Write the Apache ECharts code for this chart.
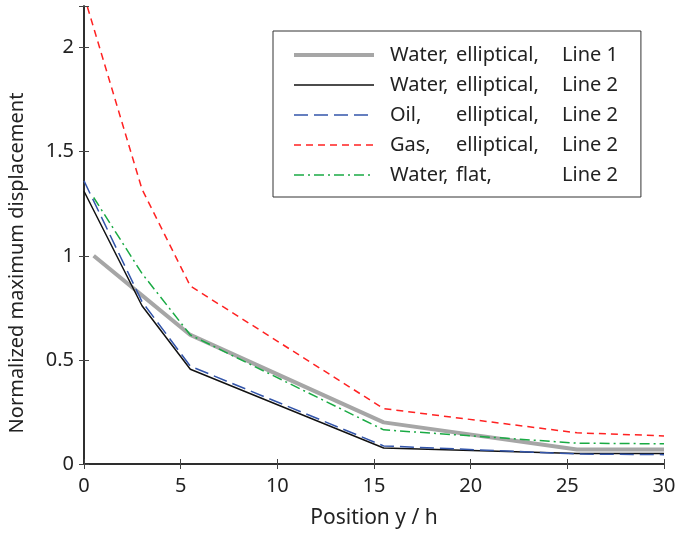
<!DOCTYPE html>
<html><head><meta charset="utf-8">
<script src="https://cdn.jsdelivr.net/npm/echarts@6/dist/echarts.min.js"></script>
<style>html,body{margin:0;padding:0;background:#fff}#c{width:677px;height:534px}</style>
</head><body><div id="c"></div>
<script>
var xLine1 = [0.5, 3, 5.5, 15.5, 25.5, 30];
var xLine2 = [0, 3, 5.5, 15.5, 25.5, 30];
var waterEllLine1 = [1.0, 0.81, 0.62, 0.20, 0.07, 0.07];
var waterEllLine2 = [1.31, 0.76, 0.455, 0.077, 0.05, 0.05];
var oilEllLine2 = [1.36, 0.78, 0.47, 0.087, 0.048, 0.045];
var gasEllLine2 = [2.25, 1.32, 0.855, 0.266, 0.15, 0.135];
var waterFlatLine2 = [1.28, 0.915, 0.62, 0.164, 0.10, 0.097];
var seriesNames = ['Water, elliptical, Line 1','Water, elliptical, Line 2','Oil, elliptical, Line 2','Gas, elliptical, Line 2','Water, flat, Line 2'];
var legendCols = [['Water,','elliptical,','Line 1'],['Water,','elliptical,','Line 2'],['Oil,','elliptical,','Line 2'],['Gas,','elliptical,','Line 2'],['Water,','flat,','Line 2']];
var xTicks = [0,5,10,15,20,25,30];
var yTicks = [0,0.5,1,1.5,2];

function pairs(xs, ys){ return xs.map(function(x,i){return [x, ys[i]];}); }

var FONT = 'Noto Sans';
var FS = 20;
var chart = echarts.init(document.getElementById('c'));
var axisLine = {show:true, lineStyle:{color:'#222', width:1.5}};
var tick = {show:true, inside:true, length:5, lineStyle:{color:'#444', width:1}};
var styles = [
  {color:'#a6a6a6', width:4, type:'solid'},
  {color:'#111111', width:1.5, type:'solid'},
  {color:'#3355aa', width:1.5, type:[14,6]},
  {color:'#ff2222', width:1.5, type:[7,5]},
  {color:'#1aaa44', width:1.5, type:[10,4,2,4]}
];
function mk(i, xs, ys){
  var s = styles[i];
  return {name:seriesNames[i], type:'line', data:pairs(xs,ys), symbol:'none', showSymbol:false, clip:true,
    lineStyle:{color:s.color, width:s.width, type:s.type}, itemStyle:{color:s.color}, animation:false, z: 2};
}
chart.setOption({
  animation:false,
  grid:{left:84, right:13, top:6, bottom:70, containLabel:false, outerBoundsMode:'none'},
  xAxis:[{type:'value', min:0, max:30, interval:5, position:'bottom',
    name:'Position y / h', nameLocation:'middle', nameGap:44,
    nameTextStyle:{fontFamily:FONT, fontSize:FS+1, color:'#222'},
    axisLine:axisLine, axisTick:tick, splitLine:{show:false},
    axisLabel:{fontFamily:FONT, fontSize:FS, color:'#222', margin:12}},
   {type:'value', min:0, max:30, interval:5, position:'top',
    axisLine:axisLine, axisTick:tick, splitLine:{show:false}, axisLabel:{show:false}}],
  yAxis:[{type:'value', min:0, max:2.2, interval:0.5, position:'left',
    name:'Normalized maximum displacement', nameLocation:'middle', nameGap:57,
    nameTextStyle:{fontFamily:FONT, fontSize:FS, color:'#222', padding:[0,56,0,0]},
    axisLine:axisLine, axisTick:tick, splitLine:{show:false},
    axisLabel:{fontFamily:FONT, fontSize:FS, color:'#222', margin:10,
      formatter:function(v){ return yTicks.indexOf(v)>=0 ? String(v) : ''; }}},
   {type:'value', min:0, max:2.2, interval:0.5, position:'right',
    axisLine:axisLine, axisTick:tick, splitLine:{show:false}, axisLabel:{show:false}}],
  legend:{show:true, orient:'vertical', left:273, top:31,
    backgroundColor:'#fff', borderColor:'#333', borderWidth:1,
    padding:[14,23,12,19], itemGap:10, itemWidth:80, itemHeight:14,
    itemStyle:{opacity:0},
    data:seriesNames.map(function(n,i){ return {name:n, lineStyle:{width:styles[i].width, color:styles[i].color, type:styles[i].type}}; }),
    formatter:function(n){ var c = legendCols[seriesNames.indexOf(n)]; return '{a|'+c[0]+'}{b|'+c[1]+'}{c|'+c[2]+'}'; },
    textStyle:{fontFamily:FONT, fontSize:FS, color:'#222', padding:[0,0,0,11],
      rich:{a:{width:66, fontFamily:FONT, fontSize:FS, lineHeight:22, color:'#222'},
            b:{width:106, fontFamily:FONT, fontSize:FS, lineHeight:22, color:'#222'},
            c:{fontFamily:FONT, fontSize:FS, lineHeight:22, color:'#222'}}}},
  series:[
    mk(0, xLine1, waterEllLine1),
    mk(1, xLine2, waterEllLine2),
    mk(2, xLine2, oilEllLine2),
    mk(3, xLine2, gasEllLine2),
    mk(4, xLine1, waterFlatLine2)
  ]
});
</script></body></html>
